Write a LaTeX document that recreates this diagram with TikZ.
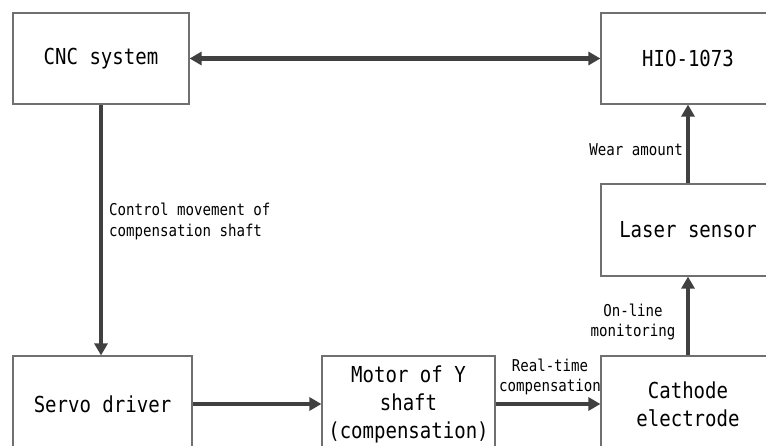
\documentclass[tikz,border=0pt]{standalone}
\usepackage{fontspec}
\usetikzlibrary{arrows.meta}
\newfontfamily\lblfont[FakeStretch=0.865]{DejaVu Sans Mono}
\definecolor{arrowgray}{HTML}{404040}
\definecolor{boxgray}{HTML}{707070}
\tikzset{
  blockbox/.style={draw=boxgray, line width=1.2pt, fill=white, inner sep=0pt,
    font=\lblfont\fontsize{22}{28}\selectfont, align=center, text=black},
  flowarrow/.style={draw=arrowgray, line width=4.5pt,
    -{Triangle[length=12pt,width=13pt]}},
  biarrow/.style={draw=arrowgray, line width=4.5pt,
    {Triangle[length=12pt,width=13pt]}-{Triangle[length=12pt,width=13pt]}},
  smalllabel/.style={font=\lblfont\fontsize{16.3}{20.5}\selectfont, inner sep=0pt, text=black}
}
\begin{document}
\begin{tikzpicture}[x=1pt,y=-1pt]
\useasboundingbox (0,0) rectangle (766,446);
\clip (0,0) rectangle (766,446);
\node[blockbox, minimum width=176pt, minimum height=91pt] (cnc) at (101,58.5) {CNC system};
\node[blockbox, minimum width=174pt, minimum height=91pt] (hio) at (688,58.5) {HIO-1073};
\node[blockbox, minimum width=174pt, minimum height=92pt] (laser) at (688,230) {Laser sensor};
\node[blockbox, minimum width=179pt, minimum height=96pt] (servo) at (102.5,404) {Servo driver};
\node[blockbox, minimum width=173pt, minimum height=96pt] (motor) at (408.5,404) {Motor of Y\\shaft\\(compensation)};
\node[blockbox, minimum width=174pt, minimum height=96pt] (cathode) at (688,404) {Cathode\\electrode};

\draw[biarrow] (cnc.east) -- (hio.west);
\draw[flowarrow] (cnc.south) -- (cnc.south |- servo.north);
\draw[flowarrow] (servo.east) -- (motor.west);
\draw[flowarrow] (motor.east) -- (cathode.west);
\draw[flowarrow] (cathode.north) -- (laser.south);
\draw[flowarrow] (laser.north) -- (hio.south);

\node[smalllabel, anchor=west, align=left] (lctrl) at (109,221.5) {Control movement of\\compensation shaft};
\node[smalllabel, anchor=east] (lwear) at (683,150) {Wear amount};
\node[smalllabel, align=center] (lonline) at (633,322) {On-line\\monitoring};
\node[smalllabel, align=center] (lreal) at (550,377) {Real-time\\compensation};
\end{tikzpicture}
\end{document}
